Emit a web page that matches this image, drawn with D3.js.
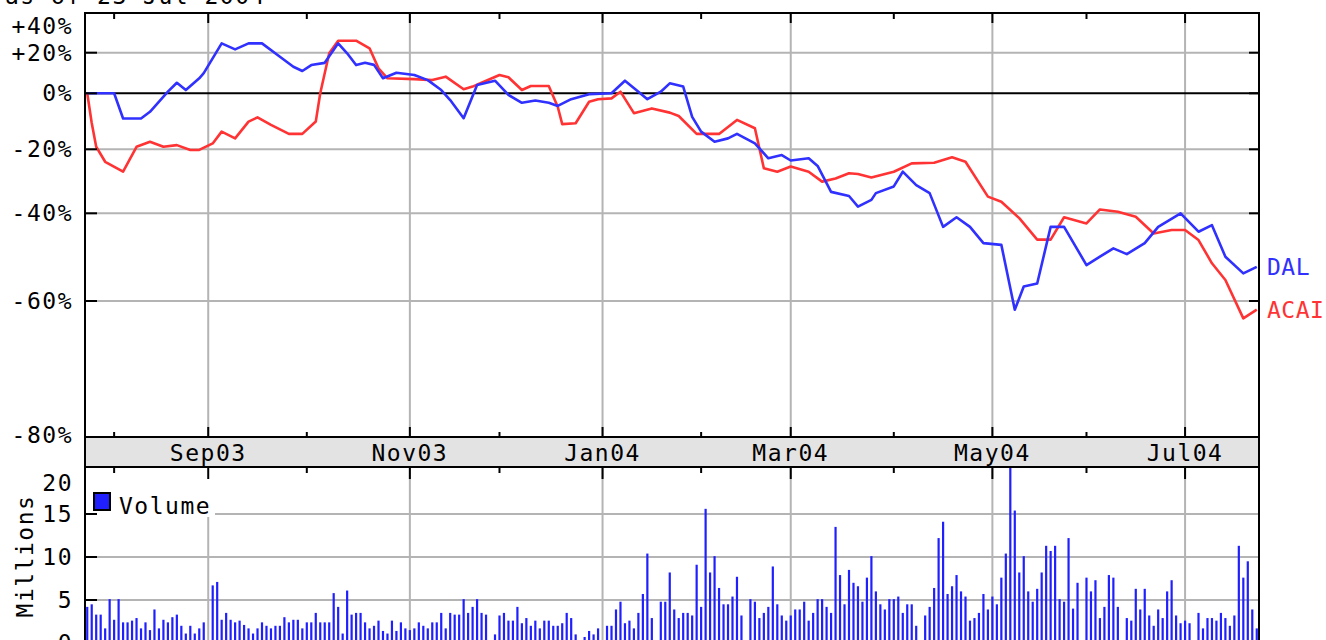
<!DOCTYPE html>
<html><head><meta charset="utf-8">
<script src="https://cdn.jsdelivr.net/npm/d3@7"></script>
<style>
html,body{margin:0;padding:0;background:#fff;overflow:hidden}
svg{display:block}
text{font-family:"DejaVu Sans Mono",monospace;font-size:23px;letter-spacing:1.5px;fill:#000}
text.sl{letter-spacing:0.5px}
</style></head><body>
<svg id="c" width="1326" height="640"></svg>
<script>
// ---------------- data ----------------
const asOfText = "as of 23-Jul-2004";
const seriesNames = ["DAL", "ACAI"];
const firstDay = "2003-07-24", lastDayExclusive = "2004-07-24";
const pctTicks = [40, 20, 0, -20, -40, -60, -80];
const pctTickLabels = ["+40%", "+20%", "0%", "-20%", "-40%", "-60%", "-80%"];
const volTicks = [0, 5, 10, 15, 20];
const monthLabels = ["Sep03", "Nov03", "Jan04", "Mar04", "May04", "Jul04"];

const dalDates = ["2003-07-24","2003-08-01","2003-08-05","2003-08-11","2003-08-13","2003-08-19","2003-08-21","2003-08-25","2003-08-28","2003-08-29","2003-09-04","2003-09-09","2003-09-12","2003-09-17","2003-09-23","2003-09-26","2003-09-30","2003-10-02","2003-10-07","2003-10-10","2003-10-14","2003-10-16","2003-10-20","2003-10-22","2003-10-24","2003-10-29","2003-11-04","2003-11-07","2003-11-12","2003-11-14","2003-11-19","2003-11-24","2003-11-28","2003-12-03","2003-12-08","2003-12-11","2003-12-16","2003-12-18","2003-12-23","2003-12-29","2004-01-05","2004-01-08","2004-01-13","2004-01-15","2004-01-20","2004-01-22","2004-01-27","2004-01-29","2004-02-02","2004-02-05","2004-02-10","2004-02-12","2004-02-18","2004-02-23","2004-02-26","2004-03-01","2004-03-05","2004-03-09","2004-03-12","2004-03-18","2004-03-22","2004-03-25","2004-03-26","2004-04-01","2004-04-05","2004-04-08","2004-04-13","2004-04-16","2004-04-21","2004-04-26","2004-04-29","2004-05-05","2004-05-10","2004-05-12","2004-05-17","2004-05-20","2004-05-25","2004-06-01","2004-06-04","2004-06-09","2004-06-14","2004-06-18","2004-06-23","2004-06-30","2004-07-06","2004-07-09","2004-07-14","2004-07-20","2004-07-23"];
const dalValues = [0,0,-9,-9,-6.6,0.8,5.2,1.6,7.4,9.9,27,22.5,27,27,18,13.1,11,13.9,15,27,19.7,13.9,15,14,7.4,10.1,9,6.5,1.6,-2.4,-8.9,4.1,6.2,-0.6,-3.4,-2.6,-3.4,-4.5,-2.1,-0.3,0,6.2,0.8,-2.1,0.8,4.9,3.3,-8.4,-13.7,-17.3,-16.1,-14.5,-17.9,-22.8,-21.8,-23.5,-22.8,-25.2,-33.3,-34.6,-37.9,-35.8,-33.7,-31.6,-27,-31.2,-33.7,-43.1,-40.9,-43.1,-46.8,-47.2,-61.3,-56.7,-56,-43.1,-43.1,-51.8,-49.9,-48,-49.3,-46.8,-43.1,-40,-44.2,-42.7,-49.9,-53.7,-52.2];

const acaiDates = ["2003-07-24","2003-07-25","2003-07-28","2003-07-30","2003-08-05","2003-08-08","2003-08-13","2003-08-18","2003-08-21","2003-08-26","2003-08-28","2003-09-02","2003-09-04","2003-09-09","2003-09-12","2003-09-16","2003-09-19","2003-09-25","2003-09-30","2003-10-03","2003-10-06","2003-10-08","2003-10-10","2003-10-16","2003-10-21","2003-10-23","2003-10-27","2003-11-04","2003-11-10","2003-11-13","2003-11-19","2003-11-21","2003-11-25","2003-12-01","2003-12-03","2003-12-08","2003-12-10","2003-12-16","2003-12-18","2003-12-19","2003-12-24","2003-12-29","2003-12-31","2004-01-05","2004-01-07","2004-01-12","2004-01-16","2004-01-22","2004-01-26","2004-01-30","2004-02-04","2004-02-06","2004-02-12","2004-02-18","2004-02-20","2004-02-25","2004-03-01","2004-03-05","2004-03-10","2004-03-15","2004-03-18","2004-03-22","2004-03-25","2004-04-01","2004-04-07","2004-04-14","2004-04-20","2004-04-23","2004-04-30","2004-05-05","2004-05-11","2004-05-17","2004-05-20","2004-05-25","2004-06-01","2004-06-04","2004-06-10","2004-06-16","2004-06-22","2004-06-28","2004-07-01","2004-07-06","2004-07-09","2004-07-14","2004-07-20","2004-07-23"];
const acaiValues = [0,-10.6,-19.1,-23.9,-27,-19.1,-17.3,-19.1,-18.5,-20.2,-20.2,-17.9,-13.7,-16.1,-10.1,-8.6,-11.3,-14.5,-14.5,-10.1,0,19.7,29,29,23.3,12.3,7.4,7,6.5,8.2,2,3.3,5.2,9,7.9,1.6,3.6,3.6,-4.8,-11,-10.7,-3,-2.1,-1.8,0.8,-7.1,-5.4,-6.9,-8.1,-14.5,-14.5,-14.5,-9.5,-12.5,-25.9,-27,-25.4,-27,-30.1,-29.1,-27.5,-27.7,-28.8,-27,-24.4,-24.2,-22.5,-23.9,-34.8,-36.4,-41.1,-46,-46,-40.9,-42.3,-38.8,-39.5,-40.8,-44.6,-43.8,-43.8,-46.1,-51.4,-55.2,-62.6,-61.3];

// DAL volume (millions), one entry per weekday from 24-Jul-2003; null = market closed
const volume = [
4.2,4.5,3.3,3.3,1.7,5.1,2.7,5.1,2.4,2.4,
2.6,2.9,1.7,2.4,1.5,3.9,1.7,2.7,2.4,3.0,
3.3,2.0,1.1,2.0,1.1,1.7,2.4,null,6.7,7.1,
2.7,3.5,2.7,2.4,2.6,2.1,1.7,1.1,1.7,2.4,
2.0,1.7,2.0,2.0,3.0,2.4,2.7,2.7,1.7,2.4,
2.4,3.5,2.4,2.4,2.4,5.8,4.2,1.1,6.1,3.3,
3.5,3.5,2.4,1.7,2.0,2.6,1.4,1.1,2.6,1.4,
2.4,1.7,1.5,1.7,2.4,2.0,1.7,2.4,2.4,3.5,
1.7,3.5,3.3,3.3,5.1,3.5,4.2,5.1,3.5,3.3,
null,1.0,3.2,3.5,2.6,2.6,4.2,2.3,2.9,2.0,
2.6,1.7,2.6,2.6,2.0,2.0,2.3,3.5,2.9,1.0,
null,0.7,1.4,1.0,1.7,null,2.0,2.0,3.9,4.8,
2.3,2.6,1.7,3.5,5.7,10.4,2.9,null,4.8,4.8,
8.2,3.9,2.9,3.5,3.5,3.2,9.1,4.2,15.6,8.2,
10.1,6.4,4.5,4.5,5.4,7.7,3.2,null,5.1,4.8,
2.9,3.5,4.2,8.9,4.5,3.2,2.6,3.2,3.9,3.9,
4.8,2.6,3.5,5.1,5.1,4.2,3.5,13.5,7.9,4.5,
8.5,7.0,6.6,4.8,7.6,10.1,6.0,4.5,3.9,5.1,
5.1,5.4,3.5,4.5,4.5,2.0,null,3.2,4.2,6.4,
12.2,14.1,5.7,6.6,7.9,6.0,5.4,2.6,2.9,3.5,
5.7,3.9,5.4,4.5,7.6,10.4,21.0,15.4,8.2,10.1,
6.0,4.8,6.3,8.2,11.3,10.7,11.3,5.1,4.8,12.2,
4.0,7.0,null,7.6,6.0,7.3,2.9,4.2,7.9,7.6,
4.2,null,2.9,2.6,6.3,3.9,6.3,3.2,2.0,3.9,
2.9,6.0,7.3,3.2,2.3,2.6,2.3,null,3.5,1.7,
2.9,2.9,2.6,3.5,2.9,2.0,3.2,11.3,7.6,9.5,
3.9,1.7];

// ---------------- layout ----------------
const W = 1326, H = 640;
const L = 85, R = 1259;
const mainTop = 13, mainBot = 437;
const bandTop = 437, bandBot = 467;
const volTop = 467, volBot = 660;
const BLUE = "#3030ff", RED = "#ff3333", BAR = "#2020ff", GRID = "#b4b4b4";

const svg = d3.select("#c");
svg.append("rect").attr("width", W).attr("height", H).attr("fill", "#fff");

const parse = d3.timeParse("%Y-%m-%d");
const key = d3.timeFormat("%Y-%m-%d");
const monFmt = d3.timeFormat("%b%y");
const days = d3.timeDay.range(parse(firstDay), parse(lastDayExclusive))
  .filter(d => d.getDay() !== 0 && d.getDay() !== 6);

const x = d3.scaleBand().domain(days.map(key)).range([L, R]).padding(0);
const xc = k => x(k) + x.bandwidth() / 2;

const y = d3.scaleLinear().domain(pctTicks).range([26, 52.7, 93.3, 149.3, 213.3, 301, 435]);
const yv = d3.scaleLinear().domain([0, 20]).range([643, 471]);

const monthStarts = days.filter((d, i) => i > 0 && d.getMonth() !== days[i - 1].getMonth());
const majors = monthStarts.filter(d => monthLabels.includes(monFmt(d)));

// clip paths
const defs = svg.append("defs");
defs.append("clipPath").attr("id", "cm").append("rect")
  .attr("x", L).attr("y", mainTop).attr("width", R - L).attr("height", mainBot - mainTop);
defs.append("clipPath").attr("id", "cv").append("rect")
  .attr("x", L).attr("y", volTop).attr("width", R - L).attr("height", volBot - volTop);

// ---------- main panel grid ----------
const gm = svg.append("g");
gm.selectAll(".vg").data(majors).join("line")
  .attr("x1", d => xc(key(d))).attr("x2", d => xc(key(d)))
  .attr("y1", mainTop).attr("y2", mainBot)
  .attr("stroke", GRID).attr("stroke-width", 2);
gm.selectAll(".hg").data([20, -20, -40, -60]).join("line")
  .attr("x1", L).attr("x2", R).attr("y1", d => y(d)).attr("y2", d => y(d))
  .attr("stroke", GRID).attr("stroke-width", 2);
gm.append("line").attr("x1", L).attr("x2", R).attr("y1", y(0)).attr("y2", y(0))
  .attr("stroke", "#000").attr("stroke-width", 2);

// lines
const line = d3.line().x(d => xc(d.k)).y(d => y(d.v));
const mk = (ds, vs) => ds.map((k, i) => ({ k, v: vs[i] })).filter(d => x(d.k) !== undefined);
const acai = mk(acaiDates, acaiValues), dal = mk(dalDates, dalValues);
const gl = svg.append("g").attr("clip-path", "url(#cm)");
gl.append("path").datum(acai).attr("d", line).attr("fill", "none")
  .attr("stroke", RED).attr("stroke-width", 2.6).attr("stroke-linejoin", "round");
gl.append("path").datum(dal).attr("d", line).attr("fill", "none")
  .attr("stroke", BLUE).attr("stroke-width", 2.6).attr("stroke-linejoin", "round");

// main frame
svg.append("rect").attr("x", L).attr("y", mainTop).attr("width", R - L).attr("height", mainBot - mainTop)
  .attr("fill", "none").attr("stroke", "#000").attr("stroke-width", 2);

// month ticks on main top & bottom
monthStarts.forEach(d => {
  const X = xc(key(d)), big = majors.includes(d);
  svg.append("line").attr("x1", X).attr("x2", X).attr("y1", mainTop).attr("y2", mainTop + (big ? 10 : 6))
    .attr("stroke", "#000").attr("stroke-width", 2);
  svg.append("line").attr("x1", X).attr("x2", X).attr("y1", mainBot).attr("y2", mainBot - (big ? 10 : 5))
    .attr("stroke", "#000").attr("stroke-width", 2);
});
// y ticks left & right
[20, 0, -20, -40, -60].forEach(v => {
  svg.append("line").attr("x1", L).attr("x2", L + 12).attr("y1", y(v)).attr("y2", y(v))
    .attr("stroke", "#000").attr("stroke-width", 2);
  svg.append("line").attr("x1", R).attr("x2", R - 10).attr("y1", y(v)).attr("y2", y(v))
    .attr("stroke", "#000").attr("stroke-width", 2);
});
// y labels
svg.selectAll(".yl").data(pctTicks).join("text")
  .attr("x", 73).attr("y", d => y(d) + 8).attr("text-anchor", "end")
  .text((d, i) => pctTickLabels[i]);

// series labels at last value
svg.append("text").attr("class", "sl").attr("x", 1267).attr("y", y(dalValues[dalValues.length - 1]) + 8)
  .style("fill", BLUE).text(seriesNames[0]);
svg.append("text").attr("class", "sl").attr("x", 1267).attr("y", y(acaiValues[acaiValues.length - 1]) + 8)
  .style("fill", RED).text(seriesNames[1]);

// as-of text (mostly above the top edge, as in the reference)
svg.append("text").attr("x", 5).attr("y", 4).text(asOfText);

// ---------- date band ----------
svg.append("rect").attr("x", L).attr("y", bandTop).attr("width", R - L).attr("height", bandBot - bandTop)
  .attr("fill", "#e3e3e3").attr("stroke", "#000").attr("stroke-width", 2);
svg.selectAll(".ml").data(majors).join("text")
  .attr("x", d => xc(key(d))).attr("y", 461).attr("text-anchor", "middle")
  .text(d => monFmt(d));

// ---------- volume panel ----------
const gv = svg.append("g");
gv.selectAll(".vvg").data(majors).join("line")
  .attr("x1", d => xc(key(d))).attr("x2", d => xc(key(d)))
  .attr("y1", volTop).attr("y2", volBot)
  .attr("stroke", GRID).attr("stroke-width", 2);
gv.selectAll(".vhg").data([5, 10, 15]).join("line")
  .attr("x1", L).attr("x2", R).attr("y1", d => yv(d)).attr("y2", d => yv(d))
  .attr("stroke", GRID).attr("stroke-width", 2);

const bars = days.map((d, i) => ({ k: key(d), v: volume[i] })).filter(d => d.v != null);
svg.append("g").attr("clip-path", "url(#cv)").selectAll("rect").data(bars).join("rect")
  .attr("x", d => xc(d.k) - 1.1).attr("width", 2.2)
  .attr("y", d => yv(d.v)).attr("height", d => yv(0) - yv(d.v))
  .attr("fill", BAR);

// legend box
svg.append("rect").attr("x", L + 1).attr("y", volTop + 1).attr("width", 129).attr("height", 49).attr("fill", "#fff");
svg.append("rect").attr("x", 94).attr("y", 493).attr("width", 16).attr("height", 17)
  .attr("fill", BAR).attr("stroke", "#000").attr("stroke-width", 2);
svg.append("text").attr("x", 119).attr("y", 514).text("Volume");

svg.append("rect").attr("x", L).attr("y", volTop).attr("width", R - L).attr("height", volBot - volTop)
  .attr("fill", "none").attr("stroke", "#000").attr("stroke-width", 2);
monthStarts.forEach(d => {
  const X = xc(key(d)), big = majors.includes(d);
  svg.append("line").attr("x1", X).attr("x2", X).attr("y1", volTop).attr("y2", volTop + (big ? 12 : 6))
    .attr("stroke", "#000").attr("stroke-width", 2);
});
[5, 10, 15].forEach(v => {
  svg.append("line").attr("x1", L).attr("x2", L + 12).attr("y1", yv(v)).attr("y2", yv(v))
    .attr("stroke", "#000").attr("stroke-width", 2);
});
svg.selectAll(".vl").data(volTicks).join("text")
  .attr("x", 73).attr("y", d => (d === 20 ? yv(d) + 12 : yv(d)) + 8).attr("text-anchor", "end")
  .text(d => d);
svg.append("text").attr("transform", "translate(33,556) rotate(-90)").attr("text-anchor", "middle")
  .text("Millions");
</script>
</body></html>
